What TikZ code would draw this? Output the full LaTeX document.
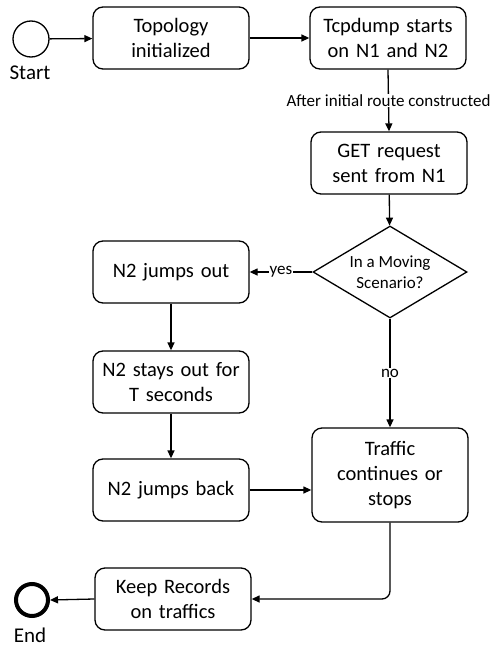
\documentclass[tikz,border=0pt]{standalone}
\usepackage{fontspec}
\setmainfont{Carlito}
\usetikzlibrary{arrows.meta,shapes.geometric}
\begin{document}
\begin{tikzpicture}[x=1pt,y=-1pt,
  every node/.style={font=\fontsize{20.5}{25}\selectfont},
  proc/.style={draw, rounded corners=10pt, line width=1.3pt, minimum width=156pt,
    minimum height=62pt, align=center, inner sep=0pt, text width=150pt},
  flow/.style={line width=1.3pt, -{Triangle[length=8pt,width=7pt]}},
  lab/.style={fill=white, inner sep=1pt, font=\fontsize{17}{19}\selectfont},
  ev/.style={draw, circle, minimum size=36pt, inner sep=0pt},
  evlab/.style={font=\fontsize{21}{23}\selectfont}
]
\useasboundingbox (0,0) rectangle (501,647);

% events
\node[ev, line width=1.3pt] (start) at (31,39) {};
\node[evlab] (startlab) at (30,73) {Start};
\node[ev, line width=4pt, minimum size=32pt] (end) at (32,600) {};
\node[evlab] (endlab) at (30,635) {End};

% activities
\node[proc] (topo) at (171,38) {Topology\\initialized};
\node[proc] (tcp) at (388,38) {Tcpdump starts\\on N1 and N2};
\node[proc] (get) at (389,163) {GET request\\sent from N1};
\node[draw, diamond, line width=1.3pt, aspect=1.67, minimum width=154pt, minimum height=92pt,
  inner sep=0pt, align=center, font=\fontsize{17}{21}\selectfont] (dia) at (390,272) {In a Moving\\Scenario?};
\node[proc] (jout) at (171,272) {N2 jumps out};
\node[proc] (stay) at (171,382) {N2 stays out for\\T seconds};
\node[proc] (back) at (171,490) {N2 jumps back};
\node[proc, minimum height=94pt] (traffic) at (390,475) {Traffic\\continues or\\stops};
\node[proc] (keep) at (173,599) {Keep Records\\on traffics};

% sequence flows
\draw[flow] (start) -- (topo);
\draw[flow] (topo) -- (tcp);
\draw[flow] (tcp.south) -- node[lab] {After initial route constructed} (get.north);
\draw[flow] (get) -- (dia);
\draw[flow] (dia.west) -- node[lab] {yes} (jout.east);
\draw[flow] (dia.south) -- node[lab] {no} (traffic.north);
\draw[flow] (jout) -- (stay);
\draw[flow] (stay) -- (back);
\draw[flow] (back.east) -- (back.east -| traffic.west);
\draw[flow, rounded corners=8pt] (traffic.south) |- (keep.east);
\draw[flow] (keep.west) -- (end.east);
\end{tikzpicture}
\end{document}
